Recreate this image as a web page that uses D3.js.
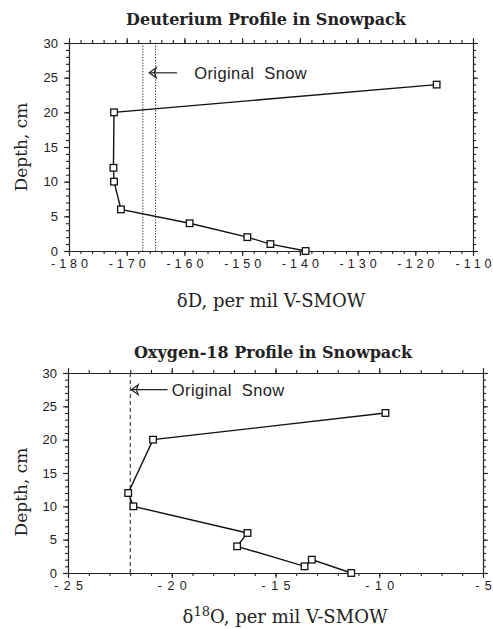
<!DOCTYPE html>
<html>
<head>
<meta charset="utf-8">
<script src="https://cdn.jsdelivr.net/npm/d3@7"></script>
<style>
  body { margin: 0; background: #fff; }
  svg { display: block; }
  .tick text { font-family: "Liberation Sans", Arial, sans-serif; fill: #222; }
  .axis path, .axis line { stroke: #222; stroke-width: 1.1; }
</style>
</head>
<body>
<div id="chart"></div>
<script>
// Deuterium profile (depth in cm, delta D per mil), in plotted order
var dDepth = [24, 20, 12, 10, 6, 4, 2, 1, 0];
var dValues = [-116.3, -172.2, -172.3, -172.2, -171.0, -159.1, -149.1, -145.1, -139.0];
var dOriginal = [-167.2, -165.0];
var dXTicks = [-180, -170, -160, -150, -140, -130, -120, -110];

// Oxygen-18 profile, in plotted order
var oDepth = [24, 20, 12, 10, 6, 4, 1, 2, 0];
var oValues = [-9.7, -20.9, -22.1, -21.85, -16.35, -16.85, -13.6, -13.25, -11.35];
var oOriginal = [-22.0];
var oXTicks = [-25, -20, -15, -10, -5];

var depthTicks = [0, 5, 10, 15, 20, 25, 30];

var width = 493, height = 629;
var svg = d3.select('#chart').append('svg')
    .attr('width', width)
    .attr('height', height);

// plain hyphen labels, spread out one character at a time
function spacedLabels(sel, spacing) {
    sel.each(function(d) {
        var t = d3.select(this);
        var chars = String(d).split('');
        t.text(null);
        chars.forEach(function(c, i) {
            t.append('tspan').attr('dx', i == 0 ? 0 : spacing).text(c);
        });
    });
}

function drawPanel(p) {
    var x = d3.scaleLinear().domain(p.xDomain).range([p.left, p.right]);
    var y = d3.scaleLinear().domain([0, 30]).range([p.bottom, p.top]);
    var g = svg.append('g');

    var minorX = d3.range(p.xDomain[0], p.xDomain[1] + 0.001, p.xMinor);
    var minorY = d3.range(0, 30.001, 1);

    // minor ticks on all four sides
    g.append('g').attr('class', 'axis').attr('transform', `translate(0,${p.bottom})`)
        .call(d3.axisBottom(x).tickValues(minorX).tickSize(3).tickSizeOuter(0).tickFormat(''));
    g.append('g').attr('class', 'axis').attr('transform', `translate(0,${p.top})`)
        .call(d3.axisTop(x).tickValues(minorX).tickSize(3).tickSizeOuter(0).tickFormat(''));
    g.append('g').attr('class', 'axis').attr('transform', `translate(${p.left},0)`)
        .call(d3.axisLeft(y).tickValues(minorY).tickSize(3).tickSizeOuter(0).tickFormat(''));
    g.append('g').attr('class', 'axis').attr('transform', `translate(${p.right},0)`)
        .call(d3.axisRight(y).tickValues(minorY).tickSize(3).tickSizeOuter(0).tickFormat(''));

    // major ticks with labels
    var xb = g.append('g').attr('class', 'axis').attr('transform', `translate(0,${p.bottom})`)
        .call(d3.axisBottom(x).tickValues(p.xTicks).tickSize(5).tickPadding(p.xPad).tickSizeOuter(0));
    xb.selectAll('text').style('font-size', '12.5px').call(spacedLabels, p.spacing);
    g.append('g').attr('class', 'axis').attr('transform', `translate(0,${p.top})`)
        .call(d3.axisTop(x).tickValues(p.xTicks).tickSize(5).tickSizeOuter(0).tickFormat(''));
    var yl = g.append('g').attr('class', 'axis').attr('transform', `translate(${p.left},0)`)
        .call(d3.axisLeft(y).tickValues(depthTicks).tickSize(5).tickPadding(6).tickSizeOuter(0));
    yl.selectAll('text').style('font-size', '13px');
    g.append('g').attr('class', 'axis').attr('transform', `translate(${p.right},0)`)
        .call(d3.axisRight(y).tickValues(depthTicks).tickSize(5).tickSizeOuter(0).tickFormat(''));

    // original snow reference lines
    g.selectAll('.orig').data(p.original).enter().append('line')
        .attr('x1', d => x(d)).attr('x2', d => x(d))
        .attr('y1', y(30)).attr('y2', y(0))
        .attr('stroke', '#222')
        .attr('stroke-width', 1)
        .attr('stroke-dasharray', p.dash);

    // arrow and label
    var ay = y(p.arrowDepth);
    var ax = x(p.arrowTip);
    g.append('line')
        .attr('x1', ax).attr('x2', x(p.arrowTail))
        .attr('y1', ay).attr('y2', ay)
        .attr('stroke', '#222').attr('stroke-width', 1.2);
    g.append('path')
        .attr('d', `M${ax + 7},${ay - 5}L${ax},${ay}L${ax + 7},${ay + 5}L${ax + 5},${ay}Z`)
        .attr('fill', 'none').attr('stroke', '#222').attr('stroke-width', 1.2);
    g.append('text')
        .attr('x', x(p.arrowText)).attr('y', ay).attr('dy', '0.36em')
        .style('font-family', '"Liberation Sans", Arial, sans-serif')
        .style('font-size', '16.5px')
        .style('letter-spacing', '0.4px')
        .attr('fill', '#222')
        .attr('xml:space', 'preserve')
        .text('Original  Snow');

    // profile line and square markers
    var pts = p.values.map((v, i) => [v, p.depth[i]]);
    var line = d3.line().x(d => x(d[0])).y(d => y(d[1]));
    g.append('path')
        .attr('d', line(pts))
        .attr('fill', 'none')
        .attr('stroke', '#111')
        .attr('stroke-width', 1.4);
    g.selectAll('.pt').data(pts).enter().append('rect')
        .attr('x', d => x(d[0]) - 3.3)
        .attr('y', d => y(d[1]) - 3.3)
        .attr('width', 6.6).attr('height', 6.6)
        .attr('fill', '#fff').attr('stroke', '#111').attr('stroke-width', 1.3);

    // titles
    g.append('text')
        .attr('x', p.titleX).attr('y', p.titleY)
        .attr('text-anchor', 'middle')
        .style('font-family', '"DejaVu Serif", serif')
        .style('font-weight', 'bold')
        .style('font-size', '16px')
        .attr('fill', '#222')
        .text(p.title);

    var xt = g.append('text')
        .attr('x', p.xTitleX).attr('y', p.xTitleY)
        .attr('text-anchor', 'middle')
        .style('font-family', '"DejaVu Serif", serif')
        .style('font-size', '18px')
        .attr('fill', '#222');
    if (p.sup) {
        xt.append('tspan').text('δ');
        xt.append('tspan').attr('dy', -7).style('font-size', '13px').text(p.sup);
        xt.append('tspan').attr('dy', 7).text(p.xTitle);
    } else {
        xt.text(p.xTitle);
    }

    g.append('text')
        .attr('transform', `translate(${p.yTitleX},${p.yTitleY}) rotate(-90)`)
        .attr('text-anchor', 'middle')
        .style('font-family', '"DejaVu Serif", serif')
        .style('font-size', '17px')
        .attr('fill', '#222')
        .text('Depth, cm');
}

drawPanel({
    xDomain: [-180, -110], xTicks: dXTicks, xMinor: 2,
    left: 69, right: 473, top: 43, bottom: 251,
    depth: dDepth, values: dValues, original: dOriginal,
    dash: '1.2,1.6', xPad: 3.5, spacing: 4,
    arrowDepth: 25.7, arrowTip: -166.1, arrowTail: -161.3, arrowText: -158.3,
    title: 'Deuterium Profile in Snowpack', titleX: 266, titleY: 25,
    xTitle: 'δD, per mil V-SMOW', xTitleX: 271, xTitleY: 307,
    yTitleX: 27, yTitleY: 147
});

drawPanel({
    xDomain: [-25, -5], xTicks: oXTicks, xMinor: 1,
    left: 68, right: 483, top: 373, bottom: 573,
    depth: oDepth, values: oValues, original: oOriginal,
    dash: '4,3', xPad: 3, spacing: 5.5,
    arrowDepth: 27.5, arrowTip: -21.95, arrowTail: -20.2, arrowText: -20.0,
    title: 'Oxygen-18 Profile in Snowpack', titleX: 273, titleY: 358,
    xTitle: 'O, per mil V-SMOW', sup: '18', xTitleX: 285, xTitleY: 623,
    yTitleX: 27, yTitleY: 492
});
</script>
</body>
</html>
